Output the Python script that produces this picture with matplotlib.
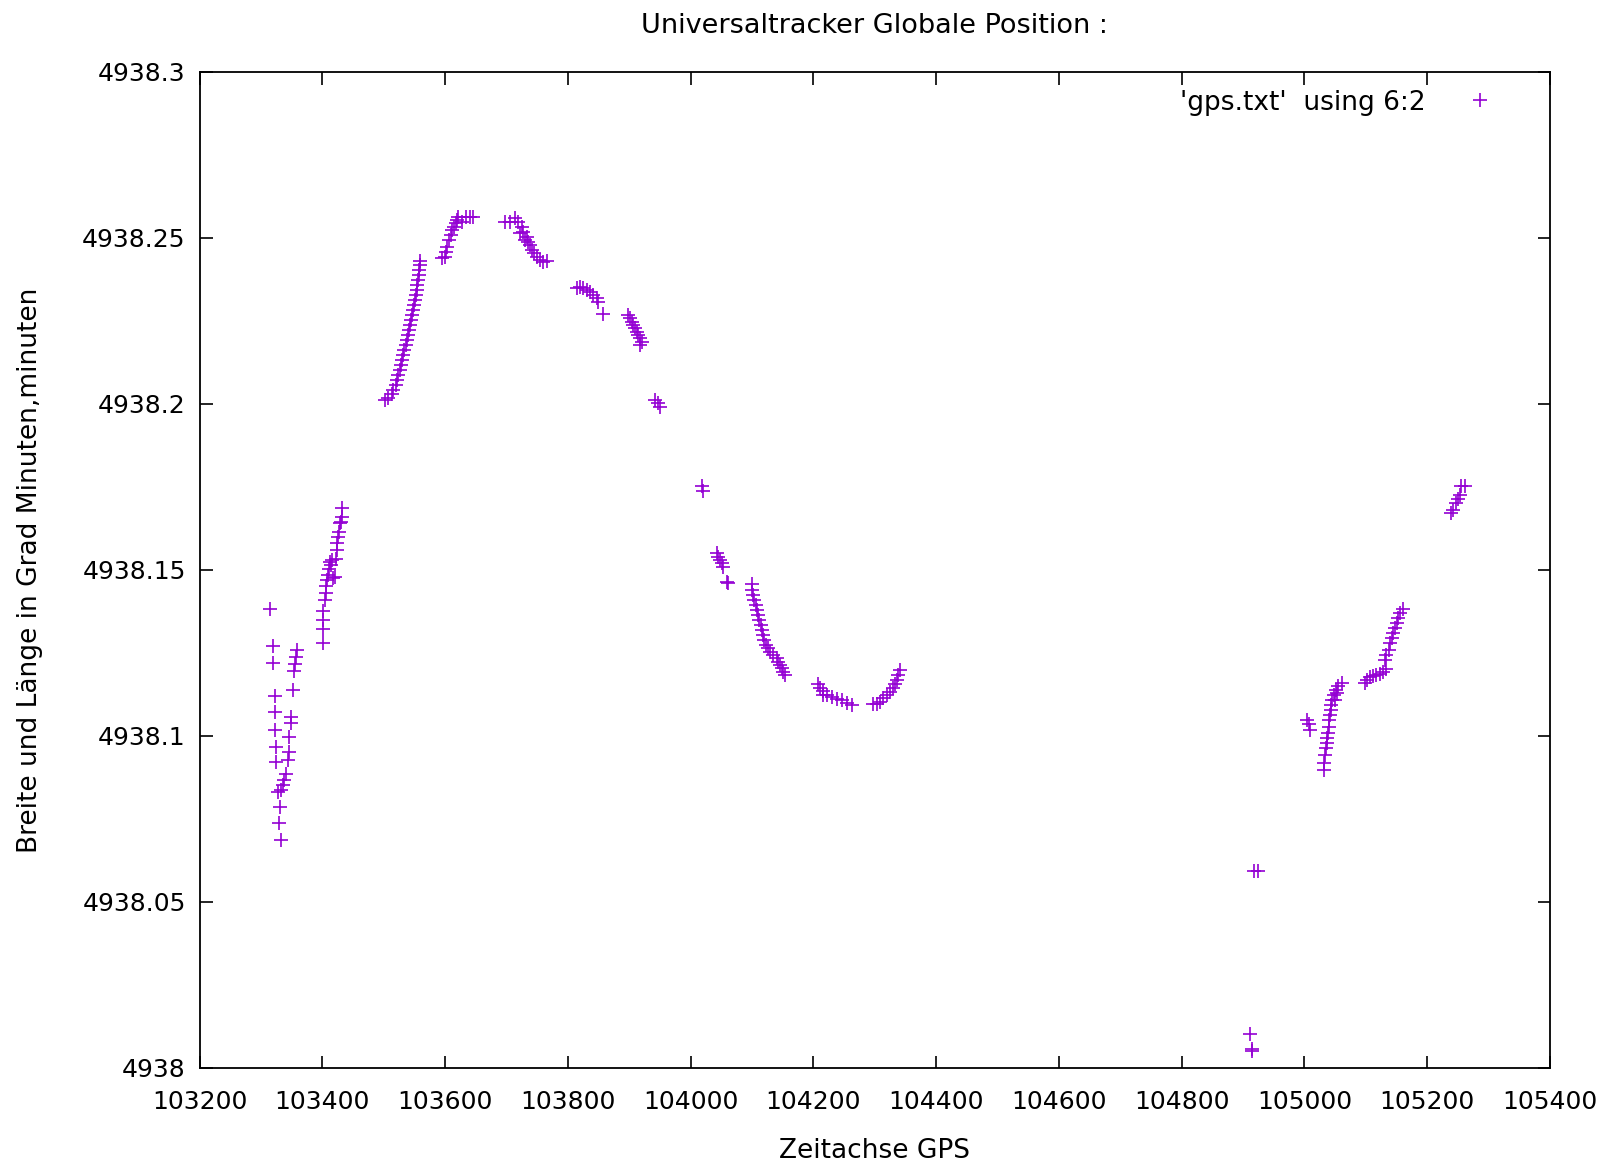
import matplotlib
matplotlib.use("Agg")
import matplotlib.pyplot as plt

# -----------------------------
# DATA  (column 6 = GPS time, column 2 = latitude in deg+min)
# -----------------------------
gps_time = [
    # first stretch, two scattered columns
    103315.5, 103318.9, 103318.9, 103322.2, 103322.2, 103322.2, 103323.9, 103323.9,
    103327.2, 103330.6, 103328.9, 103332.3,
    103358.4, 103357.4, 103355.7, 103354.5, 103352.9, 103348.7, 103348.7, 103346.3,
    103346.3, 103343.8, 103341.0, 103338.3, 103335.6, 103332.3,
    # climbing to 4938.17
    103401.8, 103401.8, 103401.8, 103401.8, 103404.4, 103406.1, 103406.1, 103408.3,
    103410.0, 103411.5, 103413.8, 103415.5, 103412.6, 103418.0, 103420.8, 103422.3,
    103423.5, 103424.5, 103426.2, 103427.4, 103428.9, 103430.0, 103431.7, 103431.7,
    # steep rise
    103502.2, 103507.6, 103513.1, 103515.8, 103520.1, 103522.3, 103524.0, 103526.7,
    103528.3, 103530.3, 103532.0, 103533.7, 103535.9, 103537.5, 103539.2, 103541.4,
    103542.9, 103544.6, 103546.2, 103548.3, 103549.4, 103551.1, 103552.3, 103553.9,
    103554.8, 103556.0, 103557.1, 103558.1, 103558.8, 103559.3,
    103594.6, 103600.0, 103601.7, 103603.7, 103607.0, 103609.2, 103610.9, 103614.6,
    103617.9, 103619.9, 103621.6, 103627.1, 103634.1, 103640.7, 103646.0,
    # top and descent
    103697.6, 103705.8, 103714.0, 103719.4, 103724.9, 103727.6, 103733.1, 103735.8,
    103738.5, 103741.1, 103745.0, 103749.3, 103754.7, 103760.0, 103765.6, 103722.1,
    103730.3,
    103814.5, 103819.8, 103825.2, 103830.7, 103836.2, 103841.6, 103846.9, 103849.6,
    103857.8,
    103898.5, 103901.2, 103904.0, 103906.7, 103909.4, 103912.2, 103914.8, 103917.6,
    103920.3, 103917.6,
    103942.0, 103947.4, 103950.1,
    104018.0, 104020.7,
    104042.5, 104045.0, 104047.9, 104050.5, 104053.2, 104058.7, 104061.4,
    104099.4, 104099.4, 104101.1, 104103.3, 104106.5, 104107.6, 104110.1, 104111.8,
    104114.2, 104115.7, 104118.3, 104119.5, 104122.7, 104125.5, 104129.2, 104134.6,
    104140.1, 104142.8, 104145.6, 104148.3, 104151.0, 104153.7,
    104207.9, 104210.8, 104215.1, 104221.7, 104229.7, 104237.9, 104246.1, 104254.2,
    104262.4, 104216.3,
    104296.5, 104303.0, 104308.4, 104313.9, 104319.3, 104324.8, 104329.2, 104332.8,
    104335.7, 104338.2, 104341.0,
    # after the gap
    104917.5, 104924.1, 104911.0, 104913.8, 104913.8,
    105004.4, 105007.1, 105008.7,
    105032.0, 105032.0, 105033.2, 105034.4, 105036.0, 105037.0, 105038.5, 105039.7,
    105040.2, 105041.4, 105042.5, 105044.0, 105045.7, 105047.9, 105051.1, 105054.9,
    105060.5, 105053.3, 105049.4,
    105098.3, 105102.2, 105106.5, 105112.0, 105117.4, 105122.8, 105128.1, 105133.6,
    105131.0, 105133.6, 105138.0, 105139.0, 105141.9, 105144.5, 105147.2, 105150.1,
    105152.6, 105155.4, 105159.8,
    105239.6, 105242.1, 105246.5, 105250.3, 105253.0, 105255.8, 105261.2,
]

gps_lat = [
    4938.1381, 4938.1272, 4938.1220, 4938.1121, 4938.1071, 4938.1019, 4938.0966, 4938.0923,
    4938.0830, 4938.0786, 4938.0737, 4938.0687,
    4938.1259, 4938.1239, 4938.1217, 4938.1196, 4938.1139, 4938.1058, 4938.1040, 4938.0998,
    4938.0953, 4938.0928, 4938.0886, 4938.0867, 4938.0853, 4938.0837,
    4938.1281, 4938.1322, 4938.1350, 4938.1376, 4938.1410, 4938.1432, 4938.1452, 4938.1470,
    4938.1485, 4938.1502, 4938.1515, 4938.1530, 4938.1525, 4938.1475, 4938.1480, 4938.1532,
    4938.1560, 4938.1580, 4938.1600, 4938.1615, 4938.1641, 4938.1646, 4938.1661, 4938.1686,
    4938.2012, 4938.2017, 4938.2030, 4938.2042, 4938.2057, 4938.2072, 4938.2087, 4938.2103,
    4938.2117, 4938.2133, 4938.2147, 4938.2163, 4938.2178, 4938.2193, 4938.2208, 4938.2223,
    4938.2238, 4938.2253, 4938.2268, 4938.2283, 4938.2298, 4938.2313, 4938.2328, 4938.2343,
    4938.2359, 4938.2373, 4938.2389, 4938.2404, 4938.2419, 4938.2432,
    4938.2439, 4938.2444, 4938.2459, 4938.2474, 4938.2494, 4938.2509, 4938.2524, 4938.2534,
    4938.2544, 4938.2554, 4938.2564, 4938.2549, 4938.2564, 4938.2562, 4938.2562,
    4938.2549, 4938.2549, 4938.2559, 4938.2549, 4938.2534, 4938.2519, 4938.2504, 4938.2489,
    4938.2479, 4938.2464, 4938.2454, 4938.2444, 4938.2434, 4938.2428, 4938.2432, 4938.2514,
    4938.2494,
    4938.2348, 4938.2353, 4938.2348, 4938.2343, 4938.2338, 4938.2328, 4938.2318, 4938.2308,
    4938.2270,
    4938.2268, 4938.2258, 4938.2248, 4938.2238, 4938.2228, 4938.2218, 4938.2208, 4938.2198,
    4938.2188, 4938.2178,
    4938.2012, 4938.2002, 4938.1992,
    4938.1753, 4938.1739,
    4938.1550, 4938.1540, 4938.1530, 4938.1520, 4938.1510, 4938.1465, 4938.1460,
    4938.1458, 4938.1440, 4938.1425, 4938.1410, 4938.1395, 4938.1380, 4938.1365, 4938.1350,
    4938.1335, 4938.1320, 4938.1305, 4938.1290, 4938.1274, 4938.1265, 4938.1254, 4938.1244,
    4938.1234, 4938.1224, 4938.1214, 4938.1204, 4938.1194, 4938.1184,
    4938.1157, 4938.1144, 4938.1134, 4938.1124, 4938.1117, 4938.1111, 4938.1107, 4938.1100,
    4938.1094, 4938.1124,
    4938.1097, 4938.1097, 4938.1103, 4938.1114, 4938.1124, 4938.1133, 4938.1144, 4938.1157,
    4938.1169, 4938.1184, 4938.1199,
    4938.0594, 4938.0594, 4938.0103, 4938.0058, 4938.0051,
    4938.1048, 4938.1036, 4938.1018,
    4938.0898, 4938.0920, 4938.0943, 4938.0963, 4938.0978, 4938.0993, 4938.1008, 4938.1028,
    4938.1048, 4938.1063, 4938.1078, 4938.1094, 4938.1109, 4938.1124, 4938.1139, 4938.1151,
    4938.1159, 4938.1129, 4938.1109,
    4938.1159, 4938.1169, 4938.1179, 4938.1181, 4938.1184, 4938.1187, 4938.1194, 4938.1201,
    4938.1229, 4938.1244, 4938.1259, 4938.1279, 4938.1294, 4938.1310, 4938.1324, 4938.1340,
    4938.1355, 4938.1370, 4938.1382,
    4938.1671, 4938.1681, 4938.1701, 4938.1713, 4938.1726, 4938.1753, 4938.1753,
]

x_ticks = [103200, 103400, 103600, 103800, 104000, 104200, 104400,
           104600, 104800, 105000, 105200, 105400]
y_ticks = [4938, 4938.05, 4938.1, 4938.15, 4938.2, 4938.25, 4938.3]
y_labels = ["4938", "4938.05", "4938.1", "4938.15", "4938.2", "4938.25", "4938.3"]

# -----------------------------
# PLOT
# -----------------------------
plt.rcParams["font.family"] = ["DejaVu Sans"]

fig = plt.figure(figsize=(16.12, 11.65), dpi=100)
ax = fig.add_axes([0.1238, 0.0833, 0.8377, 0.8549])

ax.plot(gps_time, gps_lat, linestyle="none", marker="+", markersize=10.5,
        markeredgewidth=1.2, color="#9400D3", label="'gps.txt'  using 6:2")

ax.set_xlim(103200, 105400)
ax.set_ylim(4938, 4938.3)
ax.set_xticks(x_ticks)
ax.set_yticks(y_ticks)
ax.set_yticklabels(y_labels)

ax.tick_params(direction="in", length=9, width=1.2, top=True, right=True,
               labelsize=18, colors="black")
ax.tick_params(axis="y", pad=10)
ax.tick_params(axis="x", pad=16)
for s in ax.spines.values():
    s.set_linewidth(1.3)

ax.set_title("Universaltracker Globale Position :", fontsize=19.5, pad=28)
ax.set_xlabel("Zeitachse GPS", fontsize=19, labelpad=17)
ax.set_ylabel("Breite und Länge in Grad Minuten,minuten", fontsize=19, labelpad=28)

ax.legend(loc="upper right", bbox_to_anchor=(0.9726, 0.9822), markerfirst=False,
          frameon=False, fontsize=19, handlelength=2.5, borderaxespad=0,
          borderpad=0)

fig.savefig("out.png", dpi=100)
